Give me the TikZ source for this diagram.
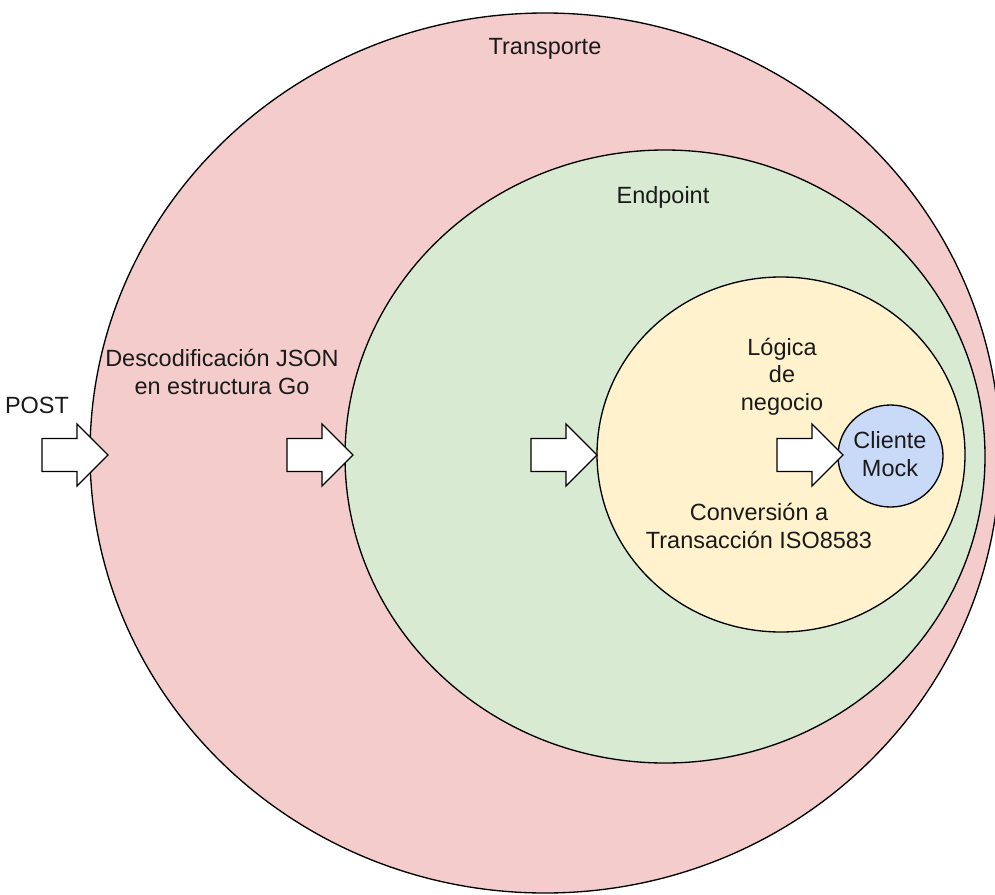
\documentclass[tikz,border=0pt]{standalone}
\usepackage{fontspec}
\setmainfont{Liberation Sans}
\usetikzlibrary{shapes.geometric}

\definecolor{transportefill}{HTML}{F4CCCC}
\definecolor{endpointfill}{HTML}{D9EAD3}
\definecolor{logicafill}{HTML}{FFF2CC}
\definecolor{clientefill}{HTML}{C9DAF8}
\definecolor{inktext}{HTML}{1A1A1A}

\begin{document}
\begin{tikzpicture}[x=0.75pt,y=-0.75pt,
  layer/.style={ellipse, draw=black, line width=1pt, inner sep=0pt},
  txt/.style={font=\fontsize{17.6}{20.6}\selectfont, text=inktext,
              align=center, anchor=base, inner sep=0pt},
  flow/.style={draw=black, fill=white, line width=1pt, line join=miter}]
\useasboundingbox (0,0) rectangle (995,895);

% nested layers
\begin{scope}
  \clip (0,0) rectangle (995,895);
  \node[layer, fill=transportefill, minimum width=682.5pt, minimum height=660pt]
    (transporte) at (545,453) {};
\end{scope}
\node[layer, fill=endpointfill, minimum width=480pt, minimum height=459.75pt]
  (endpoint) at (665,456.5) {};
\node[layer, fill=logicafill, minimum width=276pt, minimum height=266.25pt]
  (logica) at (781,454.5) {};
\node[layer, fill=clientefill, minimum width=78.75pt, minimum height=76.5pt]
  (cliente) at (890.5,456) {};

% labels (multi-line labels sit on the baseline of their last line)
\node[txt] (post) at (37,413) {POST};
\node[txt] (transporteLbl) at (545,55) {Transporte};
\node[txt] (endpointLbl) at (663,203) {Endpoint};
\node[txt] (json) at (222,394) {Descodificación JSON\\en estructura Go};
\node[txt] (logicaLbl) at (782,410) {Lógica\\de\\negocio};
\node[txt] (iso) at (759,548) {Conversión a\\Transacción ISO8583};
\node[txt] (clienteLbl) at (890,476) {Cliente\\Mock};

% block arrows entering each layer
\foreach \t in {108,353,597,843} {
  \draw[flow] (\t-66,438.5) -- (\t-31,438.5) -- (\t-31,424) -- (\t,455)
    -- (\t-31,486) -- (\t-31,471.5) -- (\t-66,471.5) -- cycle;
}
\end{tikzpicture}
\end{document}
